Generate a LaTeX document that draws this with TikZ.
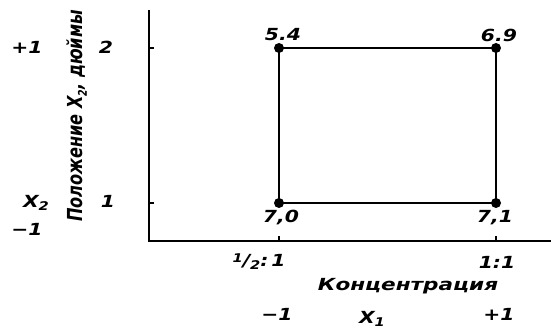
\documentclass[tikz,border=0pt]{standalone}
\usepackage{fontspec}
\setmainfont[FakeStretch=1.22]{DejaVu Sans}
\newfontfamily\tallfont[FakeStretch=0.78]{DejaVu Sans}
\newcommand{\lowidx}[1]{\raisebox{-0.35ex}{\small #1}}
\newcommand{\highidx}[1]{\raisebox{0.4ex}{\small #1}}
\begin{document}
\begin{tikzpicture}[x=0.75pt, y=-0.75pt,
                lbl/.style={font=\fontsize{12.5}{15}\selectfont\bfseries\itshape, inner sep=0pt},
                ylbl/.style={font=\tallfont\fontsize{15.5}{18}\selectfont\bfseries\itshape, inner sep=0pt},
                pt/.style={circle, fill=black, minimum size=7.5pt, inner sep=0pt},
                axis/.style={line width=1.6pt},
                tick/.style={line width=1pt},
                edge/.style={line width=2pt}]
                \useasboundingbox (0,0) rectangle (551,331);
                \coordinate (O)    at (149,241);
                \coordinate (ytop) at (149,10);
                \coordinate (xend) at (551,241);
                \draw[axis] (ytop) -- (O) -- (xend);

                % corners of the design square
                \node[pt] (lb) at (279,203) {};
                \node[pt] (rb) at (496,203) {};
                \node[pt] (lt) at (279,48)  {};
                \node[pt] (rt) at (496,48)  {};
                \draw[edge] (lb.center) -- (rb.center) -- (rt.center) -- (lt.center) -- cycle;

                \foreach \c in {lt,lb} \draw[tick] (O |- \c) -- ++(5,0);
                \foreach \c in {lb,rb} \draw[tick] (O -| \c) -- ++(0,-5);

                \node[lbl] (v54) at (283,35)  {5.4};
                \node[lbl] (v69) at (499,35)  {6.9};
                \node[lbl] (v70) at (281,218) {7,0};
                \node[lbl] (v71) at (495,218) {7,1};

                % left scale
                \node[lbl] (y2) at (106,47)  {2};
                \node[lbl] (y1) at (108,201) {1};
                \node[lbl] (yp) at (27,47)   {+1};
                \node[lbl] (yx) at (36,203)  {X\lowidx{2}};
                \node[lbl] (ym) at (27,229)  {−1};
                \node[ylbl, rotate=90] (ytitle) at (77,116) {Положение X\lowidx{2}, дюймы};

                % bottom scale
                \node[lbl] (xa) at (259,262) {\highidx{1}/\lowidx{2}:\,1};
                \node[lbl] (xb) at (497,262) {1:1};
                \node[lbl, xscale=1.06] (xtitle) at (408,286) {Концентрация};
                \node[lbl] (xm) at (277,314) {−1};
                \node[lbl] (xp) at (499,314) {+1};
                \node[lbl, anchor=south] (xx) at (372,327) {X\lowidx{1}};
\end{tikzpicture}
\end{document}
